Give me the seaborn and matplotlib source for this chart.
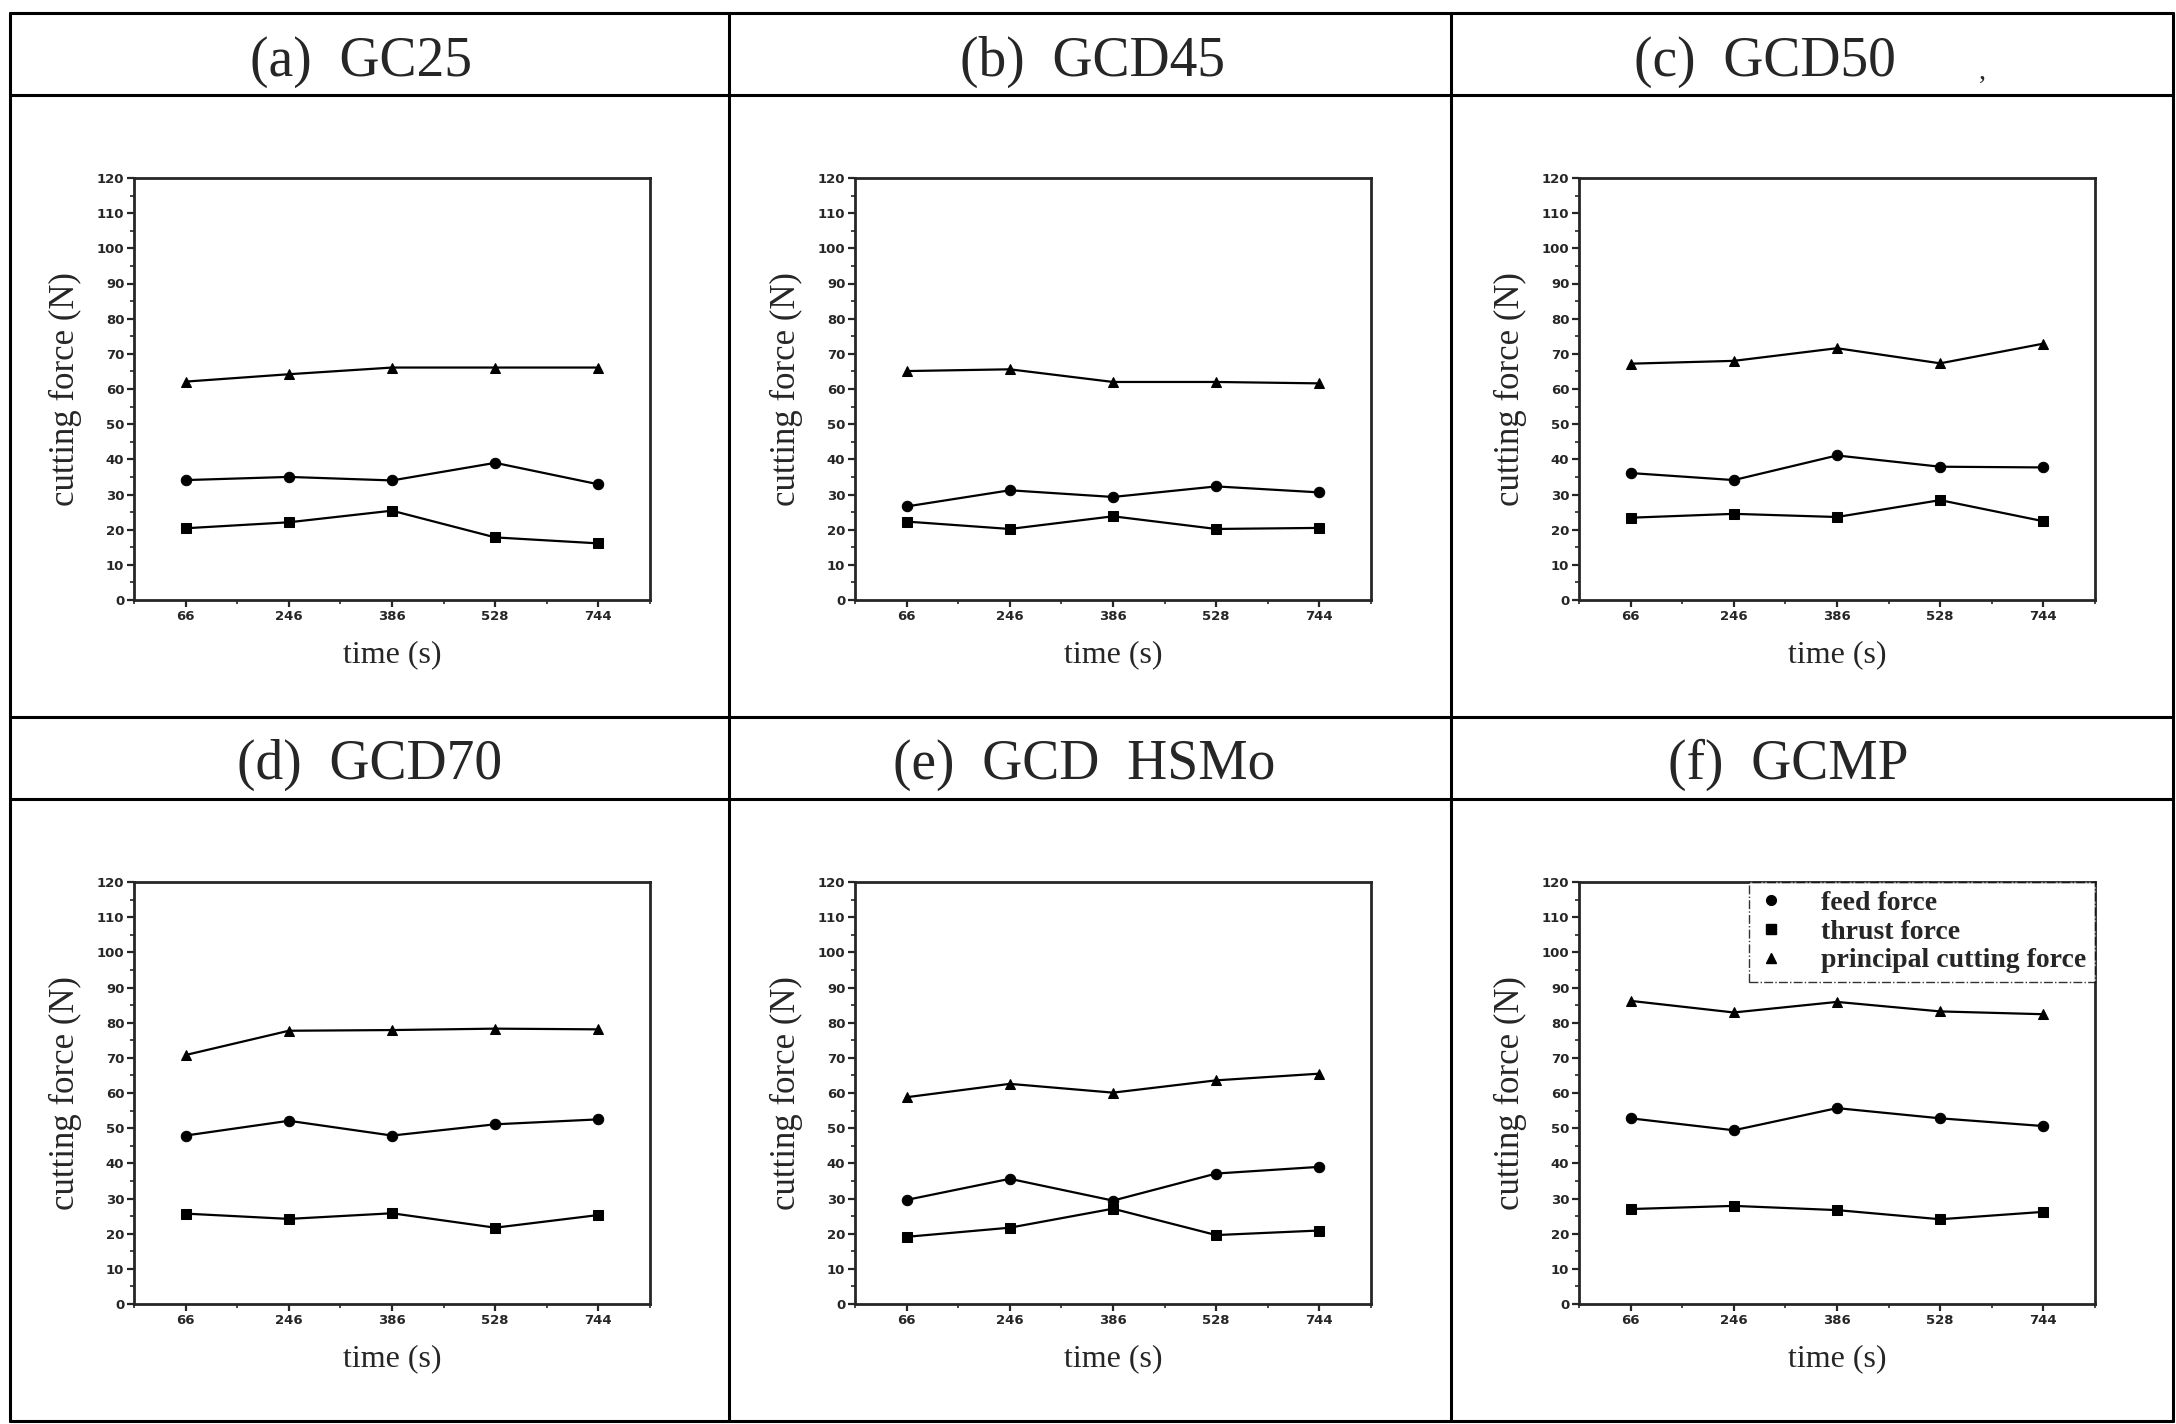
import numpy as np
import pandas as pd
import matplotlib.pyplot as plt
import seaborn as sns
from matplotlib.lines import Line2D
from matplotlib.ticker import MultipleLocator

# --- data ---
times = ['66', '246', '386', '528', '744']
panel_titles = ['(a)  GC25', '(b)  GCD45', '(c)  GCD50',
                '(d)  GCD70', '(e)  GCD  HSMo', '(f)  GCMP']
series_names = ['feed force', 'thrust force', 'principal cutting force']

feed_a = [34.1, 35.0, 34.0, 39.0, 32.9]
feed_b = [26.6, 31.2, 29.3, 32.3, 30.6]
feed_c = [36.1, 34.1, 41.1, 37.9, 37.7]
feed_d = [47.9, 52.1, 47.9, 51.1, 52.5]
feed_e = [29.6, 35.6, 29.4, 37.1, 39.0]
feed_f = [52.8, 49.4, 55.7, 52.8, 50.6]

thrust_a = [20.4, 22.1, 25.4, 17.8, 16.1]
thrust_b = [22.3, 20.2, 23.8, 20.2, 20.5]
thrust_c = [23.4, 24.5, 23.6, 28.4, 22.4]
thrust_d = [25.7, 24.2, 25.8, 21.7, 25.3]
thrust_e = [19.1, 21.7, 27.1, 19.6, 20.9]
thrust_f = [27.0, 27.9, 26.7, 24.1, 26.2]

principal_a = [62.1, 64.2, 66.1, 66.1, 66.1]
principal_b = [65.1, 65.6, 62.0, 62.0, 61.6]
principal_c = [67.2, 68.0, 71.6, 67.3, 72.9]
principal_d = [70.8, 77.7, 77.9, 78.3, 78.1]
principal_e = [58.8, 62.6, 60.1, 63.6, 65.5]
principal_f = [86.2, 82.9, 85.9, 83.2, 82.4]

feed = [feed_a, feed_b, feed_c, feed_d, feed_e, feed_f]
thrust = [thrust_a, thrust_b, thrust_c, thrust_d, thrust_e, thrust_f]
principal = [principal_a, principal_b, principal_c,
             principal_d, principal_e, principal_f]

markers = {'feed force': 'o', 'thrust force': 's',
           'principal cutting force': '^'}

sns.set_style('ticks')
plt.rcParams['font.family'] = ['Liberation Serif', 'DejaVu Serif']
plt.rcParams['axes.linewidth'] = 2.0

W, H = 2176, 1424
fig = plt.figure(figsize=(W / 100, H / 100), dpi=100)


def fx(px):
    return px / W


def fy(py):
    return 1 - py / H


# --- table-like frame around the panels ---
frame_kw = dict(color='black', linewidth=2.2, transform=fig.transFigure)
for y in [13, 95, 717, 799, 1421]:
    fig.add_artist(Line2D([fx(10), fx(2173)], [fy(y), fy(y)], **frame_kw))
for x in [10, 729, 1451, 2173]:
    fig.add_artist(Line2D([fx(x), fx(x)], [fy(13), fy(1421)], **frame_kw))

title_pos = [(361, 62), (1092, 62), (1765, 62),
             (370, 765), (1084, 765), (1788, 765)]

lefts = [134, 855, 1579]
tops = [178, 882]
ax_w, ax_h = 516, 422

for i in range(6):
    r, c = divmod(i, 3)
    left, top = lefts[c], tops[r]
    ax = fig.add_axes([fx(left), fy(top + ax_h), ax_w / W, ax_h / H])

    df = pd.DataFrame({
        'time': times * 3,
        'force': feed[i] + thrust[i] + principal[i],
        'series': np.repeat(series_names, len(times)),
    })
    sns.lineplot(data=df, x='time', y='force', style='series',
                 markers=markers, dashes=False, color='black', sort=False,
                 linewidth=1.6, markersize=7.5, markeredgecolor='black',
                 legend=False, ax=ax)

    ax.set_xlim(-0.5, 4.5)
    ax.set_ylim(0, 120)
    ax.yaxis.set_major_locator(MultipleLocator(10))
    ax.yaxis.set_minor_locator(MultipleLocator(5))
    ax.xaxis.set_minor_locator(MultipleLocator(0.5))
    ax.tick_params(which='major', direction='out', length=5, width=1.6,
                   pad=2)
    ax.tick_params(which='minor', direction='out', length=3, width=1.2)
    for lab in ax.get_xticklabels() + ax.get_yticklabels():
        lab.set_fontfamily('DejaVu Sans')
        lab.set_fontweight('bold')
        lab.set_fontsize(9.5)
    for sp in ax.spines.values():
        sp.set_visible(True)
        sp.set_linewidth(2.0)

    ax.set_ylabel('cutting force (N)', fontsize=25)
    ax.set_xlabel('time (s)', fontsize=23)
    ax.yaxis.set_label_coords(-0.10, 0.5)
    ax.xaxis.set_label_coords(0.5, -0.095)

    tx, ty = title_pos[i]
    fig.text(fx(tx), fy(ty), panel_titles[i], fontsize=40,
             ha='center', va='center')

    if i == 5:
        handles = [Line2D([], [], color='black', linestyle='none',
                          marker=markers[s], markersize=7)
                   for s in series_names]
        leg = ax.legend(handles, series_names, loc='upper right',
                        borderaxespad=0, frameon=True, fancybox=False,
                        prop={'family': 'Liberation Serif',
                              'weight': 'bold', 'size': 20},
                        handlelength=1.0, handletextpad=1.3,
                        labelspacing=0.12, borderpad=0.3)
        leg.get_frame().set_edgecolor('black')
        leg.get_frame().set_linestyle('-.')
        leg.get_frame().set_linewidth(1.0)

# stray comma next to the (c) header, as in the scan
fig.text(fx(1982), fy(72), ',', fontsize=20, ha='center', va='center')

fig.savefig('out.png', dpi=100)
